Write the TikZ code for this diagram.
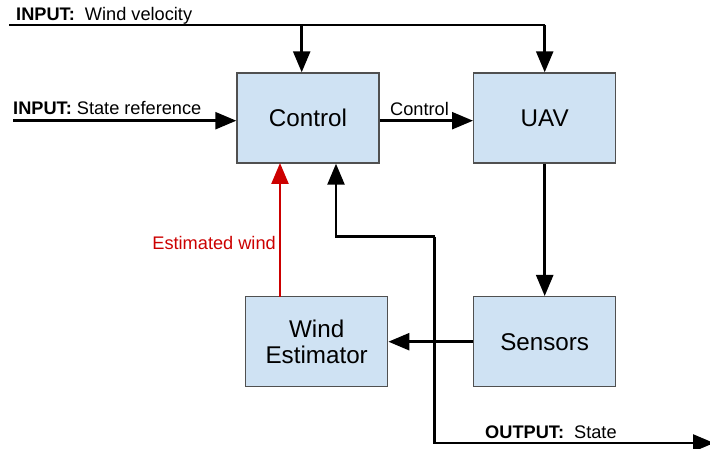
\documentclass[tikz,border=0pt]{standalone}
\usepackage{fontspec}
\setmainfont{Liberation Sans}
\usetikzlibrary{arrows.meta}
\definecolor{boxfill}{HTML}{CFE2F3}
\definecolor{boxline}{HTML}{505050}
\definecolor{estred}{HTML}{CC0000}
\tikzset{
  blockbox/.style={draw=boxline, line width=1.4pt, fill=boxfill, minimum width=142pt, minimum height=90pt, inner sep=0pt, font=\fontsize{24.2}{26.7}\selectfont, align=center},
  conn/.style={line width=2.5pt, -{Triangle[length=21pt,width=17pt]}},
  plain/.style={line width=2.5pt},
  lbl/.style={font=\fontsize{18.2}{21}\selectfont, inner sep=0pt, anchor=base west}
}
\begin{document}
\begin{tikzpicture}[x=1pt,y=-1pt]
\useasboundingbox (0,0) rectangle (710,449);
\clip (0,0) rectangle (710,449);
% boxes
\node[blockbox] (ctrl) at (308,118) {Control};
\node[blockbox] (uav) at (544.7,118) {UAV};
\node[blockbox] (sens) at (544.7,341.7) {Sensors};
\node[blockbox] (west) at (316.7,341.7) {Wind\\Estimator};
% coordinates
\coordinate (wvstart) at (9,25);
\coordinate (wvctrl) at (301.7,25);
\coordinate (wvuav) at (544.7,25);
\coordinate (srstart) at (13,120.7);
\coordinate (outa) at (336,236.7);
\coordinate (outb) at (434.7,236.7);
\coordinate (outc) at (434.7,443);
\coordinate (outd) at (714,443);
% wind velocity input
\draw[plain] (wvstart) -- (wvuav);
\draw[conn] (wvctrl) -- (wvctrl |- ctrl.north);
\draw[conn] (wvuav) -- (uav.north);
% state reference
\draw[conn] (srstart) -- (srstart -| ctrl.west);
% control to UAV
\draw[conn] (ctrl.east |- srstart) -- (uav.west |- srstart);
% UAV to sensors
\draw[conn] (uav.south) -- (sens.north);
% sensors to wind estimator
\draw[conn] (sens.west) -- (west.east);
% estimated wind
\draw[conn, draw=estred, fill=estred] (280,296.7) -- (280,163);
% state feedback and output
\draw[conn] (outb) -- (outa) -- (outa |- ctrl.south);
\draw[conn] (outb) -- (outc) -- (outd);
% labels
\node[lbl] (l1) at (16,20.7) {\textbf{INPUT:}\ \ Wind velocity};
\node[lbl] (l2) at (13,115) {\textbf{INPUT:} State reference};
\node[lbl] (l3) at (390,116) {Control};
\node[lbl, text=estred, anchor=base east] (l4) at (276,250) {Estimated wind};
\node[lbl] (l5) at (485,438.3) {\textbf{OUTPUT:}\ \ State};
\end{tikzpicture}
\end{document}
